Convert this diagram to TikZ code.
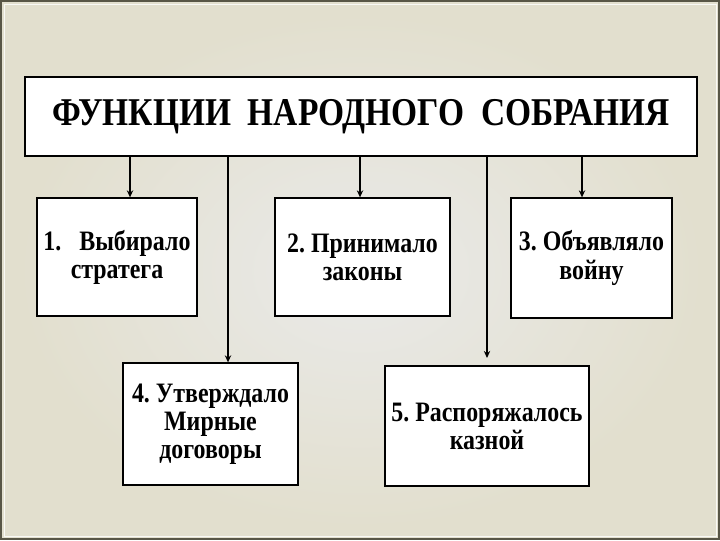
\documentclass[tikz,border=0pt]{standalone}
\usepackage{fontspec}
\newfontfamily\slidefont{Liberation Serif}[FakeStretch=0.85]
\frenchspacing
\usetikzlibrary{arrows.meta,positioning}
\definecolor{slidebeige}{RGB}{226,223,206}
\definecolor{slidegray}{RGB}{234,234,233}
\definecolor{slideframe}{RGB}{88,86,70}

\begin{document}
\begin{tikzpicture}[
    x=0.025cm, y=-0.025cm,
    funcbox/.style={rectangle, draw=black, line width=0.9pt, fill=white,
                    align=center, inner sep=2pt,
                    font=\slidefont\bfseries\fontsize{20}{20}\selectfont},
    arr/.style={-{Stealth[length=5pt,width=4.5pt]}, line width=1.3pt},
  ]
    % background
    \fill[slidebeige] (0,0) rectangle (720,540);
    \shade[inner color=slidegray, outer color=slidebeige] (18,14) rectangle (704,528);
    \draw[slideframe, line width=0.8pt] (1,1) rectangle (719,539);
    \draw[white!80!slidebeige, line width=0.5pt] (4,4) rectangle (716,536);

    \node[funcbox, minimum width=16.8cm, minimum height=1.975cm,
          font=\slidefont\bfseries\fontsize{28}{30}\selectfont] (title) at (361,116.5)
      {ФУНКЦИИ~ НАРОДНОГО~ СОБРАНИЯ};

    \node[funcbox, minimum width=4cm, minimum height=2.95cm] (b1) at (117,257)
      {1.~~ Выбирало\\ стратега};
    \node[funcbox, minimum width=4.375cm, minimum height=2.95cm] (b2) at (362.5,257)
      {2. Принимало\\ законы};
    \node[funcbox, minimum width=4.025cm, minimum height=3cm] (b3) at (591.5,258)
      {3. Объявляло\\ войну};
    \node[funcbox, minimum width=4.375cm, minimum height=3.05cm] (b4) at (210.5,424)
      {4. Утверждало\\ Мирные\\ договоры};
    \node[funcbox, minimum width=5.1cm, minimum height=3cm] (b5) at (487,426)
      {5. Распоряжалось\\ казной};

    \foreach \x/\t in {130/b1, 228/b4, 360/b2, 582/b3}{
      \draw[arr] (title.south -| \x,0) -- (\t.north -| \x,0);
    }
    \coordinate (e5) at (487,358);
    \draw[arr] (title.south -| e5) -- (e5);
\end{tikzpicture}
\end{document}
